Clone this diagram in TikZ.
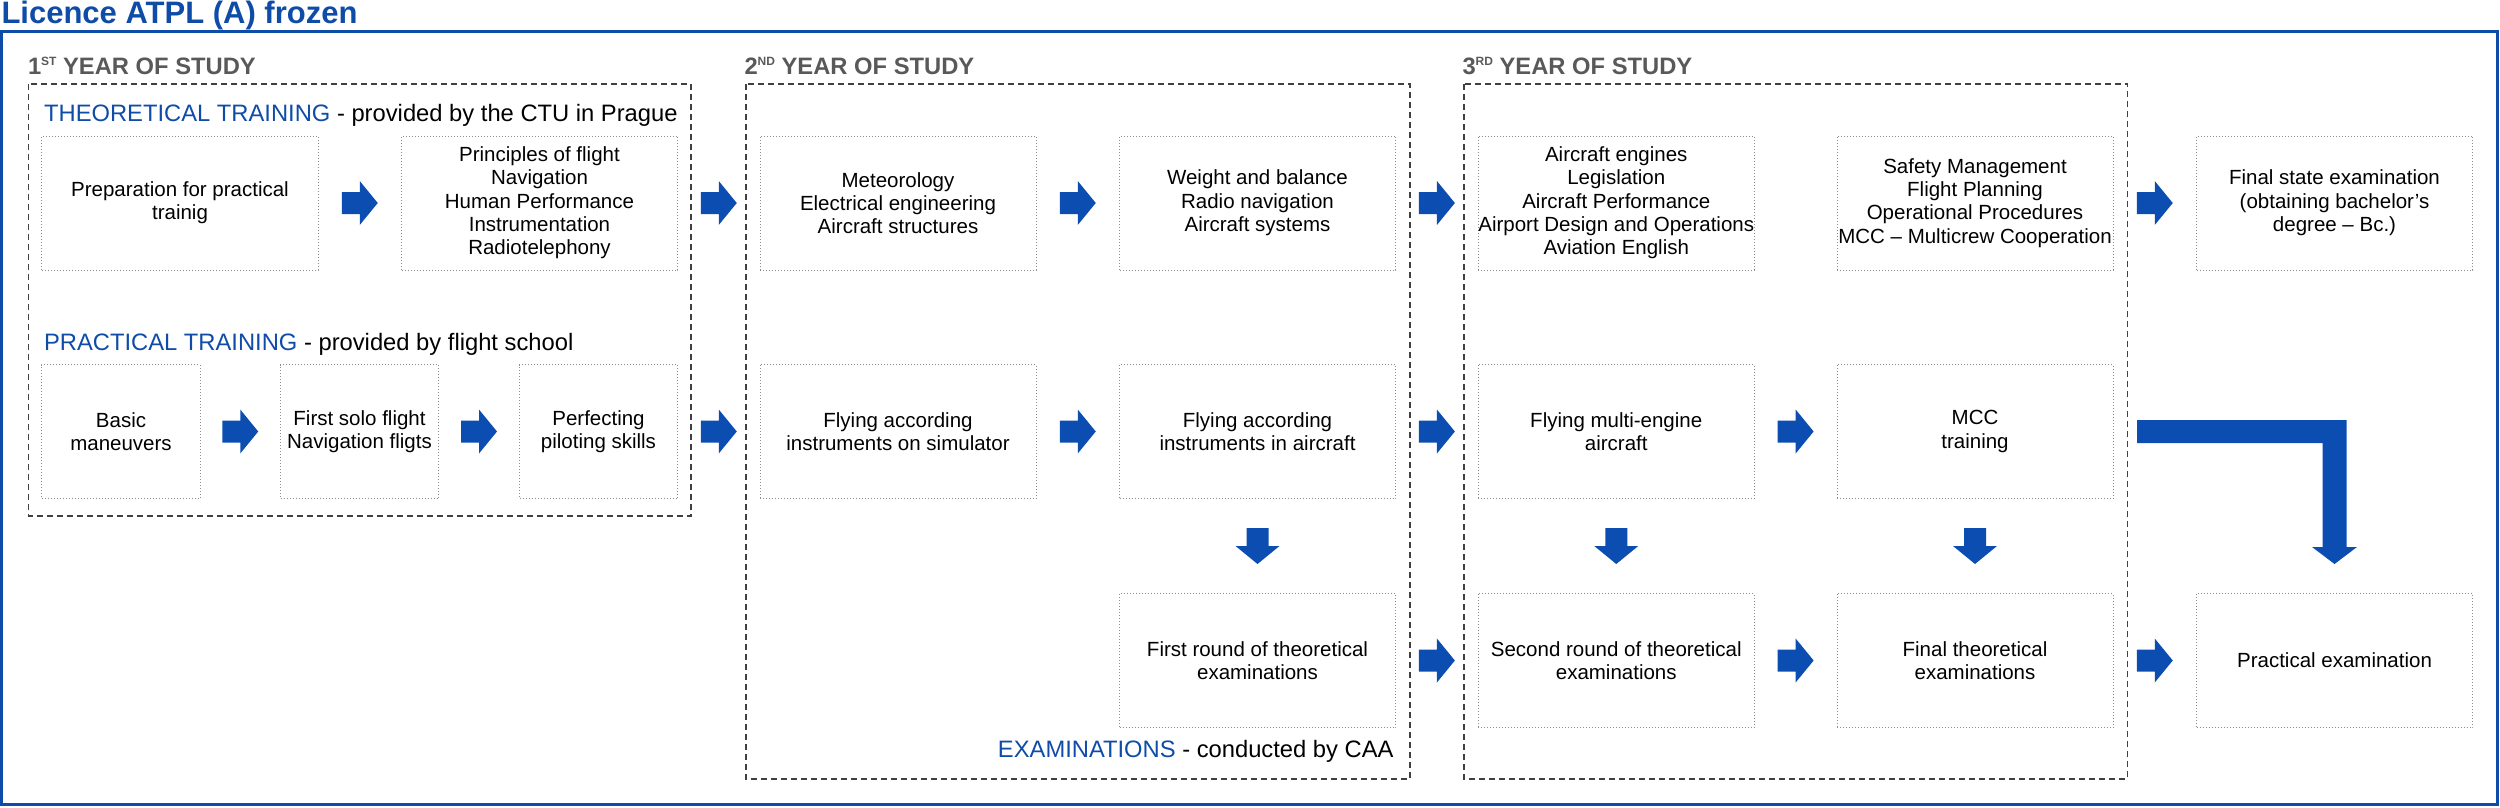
\documentclass[tikz,border=0pt]{standalone}
\usepackage{fontspec}
\setmainfont{Liberation Sans}
\usetikzlibrary{calc}
\definecolor{ablue}{RGB}{11,77,176}
\definecolor{tblue}{RGB}{14,76,168}
\definecolor{ygray}{RGB}{89,89,89}
\definecolor{bgray}{RGB}{140,140,140}
\definecolor{dgray}{RGB}{64,64,64}
\newcommand{\yrsup}[1]{\raisebox{3.3pt}{\fontsize{4.8}{5}\selectfont #1}}
\newcommand{\rarrow}[2]{\fill[ablue] ($(#1.east)!0.5!(#2.west)$) ++(-18,-11) -- ++(18,0) -- ++(0,-11) -- ++(18,22) -- ++(-18,22) -- ++(0,-11) -- ++(-18,0) -- cycle;}
\newcommand{\darrow}[2]{\fill[ablue] ($(#1.south)!0.5!(#2.north)$) ++(-11,-18) -- ++(22,0) -- ++(0,18) -- ++(11,0) -- ++(-22,18) -- ++(-22,-18) -- ++(11,0) -- cycle;}
\begin{document}
\begin{tikzpicture}[x=0.4pt,y=-0.4pt,
 box/.style={draw=bgray, line width=0.4pt, dash pattern=on 0.4pt off 0.8pt, minimum width=110.4pt, minimum height=53.6pt, align=center, font=\fontsize{8.2}{9.33}\selectfont, inner sep=0pt},
 sbox/.style={box, minimum width=63.2pt},
 yearbox/.style={draw=dgray, line width=0.7pt, dash pattern=on 2.4pt off 1.6pt},
 yearlabel/.style={anchor=base west, inner sep=0pt, text=ygray, font=\fontsize{9.5}{11}\selectfont\bfseries},
 seclabel/.style={inner sep=0pt, font=\fontsize{9.5}{11}\selectfont},
]
\useasboundingbox (0,0) rectangle (2500,807);
% outer frame and title
\draw[tblue, line width=1.2pt] (1.5,31) rectangle (2497,804);
\node[anchor=base west, inner sep=0pt, text=tblue, font=\fontsize{12.4}{14}\selectfont\bfseries] (title) at (1,23) {Licence ATPL (A) frozen};
% year frames
\draw[yearbox] (28.5,84) rectangle (691,516);
\draw[yearbox] (746,84) rectangle (1410,779);
\draw[yearbox] (1464,84) rectangle (2127.5,779);
\node[yearlabel] (y1) at (27.5,74) {1\yrsup{ST} YEAR OF STUDY};
\node[yearlabel] (y2) at (744,74) {2\yrsup{ND} YEAR OF STUDY};
\node[yearlabel] (y3) at (1462,74) {3\yrsup{RD} YEAR OF STUDY};
% section labels
\node[seclabel, anchor=base west] (theo) at (43.6,121.7) {\textcolor{tblue}{THEORETICAL TRAINING} - provided by the CTU in Prague};
\node[seclabel, anchor=base west] (prac) at (43.6,350.7) {\textcolor{tblue}{PRACTICAL TRAINING} - provided by flight school};
\node[seclabel, anchor=base east] (exam) at (1394,757) {\textcolor{tblue}{EXAMINATIONS} - conducted by CAA};
% row 1
\node[box] (prep) at (180,203) {Preparation for practical\\trainig};
\node[box] (princ) at (539.5,203) {Principles of flight\\Navigation\\Human Performance\\Instrumentation\\Radiotelephony};
\node[box] (meteo) at (898,203) {Meteorology\\Electrical engineering\\Aircraft structures};
\node[box] (weight) at (1257.5,203) {Weight and balance\\Radio navigation\\Aircraft systems};
\node[box] (engines) at (1616.25,203) {Aircraft engines\\Legislation\\Aircraft Performance\\Airport Design and Operations\\Aviation English};
\node[box] (safety) at (1975,203) {Safety Management\\Flight Planning\\Operational Procedures\\MCC – Multicrew Cooperation};
\node[box] (final) at (2334.5,203) {Final state examination\\(obtaining bachelor’s\\degree – Bc.)};
% row 2
\node[sbox] (basic) at (121,431.5) {Basic\\maneuvers};
\node[sbox] (solo) at (359.5,431.5) {First solo flight\\Navigation fligts};
\node[sbox] (perf) at (598.5,431.5) {Perfecting\\piloting skills};
\node[box] (sim) at (898,431.5) {Flying according\\instruments on simulator};
\node[box] (acft) at (1257.5,431.5) {Flying according\\instruments in aircraft};
\node[box] (multi) at (1616.25,431.5) {Flying multi-engine\\aircraft};
\node[box] (mcc) at (1975,431.5) {MCC\\training};
% row 3
\node[box] (first) at (1257.5,660.5) {First round of theoretical\\examinations};
\node[box] (second) at (1616.25,660.5) {Second round of theoretical\\examinations};
\node[box] (finth) at (1975,660.5) {Final theoretical\\examinations};
\node[box] (pexam) at (2334.5,660.5) {Practical examination};
% arrows row 1
\rarrow{prep}{princ}
\rarrow{princ}{meteo}
\rarrow{meteo}{weight}
\rarrow{weight}{engines}
\rarrow{safety}{final}
% arrows row 2
\rarrow{basic}{solo}
\rarrow{solo}{perf}
\rarrow{perf}{sim}
\rarrow{sim}{acft}
\rarrow{acft}{multi}
\rarrow{multi}{mcc}
% arrows row 3
\rarrow{first}{second}
\rarrow{second}{finth}
\rarrow{finth}{pexam}
% down arrows
\darrow{acft}{first}
\darrow{multi}{second}
\darrow{mcc}{finth}
% L-shaped arrow
\coordinate (Ls) at ($(mcc.east)+(23.5,0)$);
\coordinate (Lc) at (pexam.center |- Ls);
\coordinate (Lt) at ($(pexam.north)+(0,-29)$);
\fill[ablue] ($(Ls)+(0,-11.5)$) -- ($(Lc)+(12,-11.5)$) -- ($(Lt)+(12,-17)$) -- ($(Lt)+(22.5,-17)$) -- (Lt) -- ($(Lt)+(-22.5,-17)$) -- ($(Lt)+(-12,-17)$) -- ($(Lc)+(-12,11.5)$) -- ($(Ls)+(0,11.5)$) -- cycle;
\end{tikzpicture}
\end{document}
